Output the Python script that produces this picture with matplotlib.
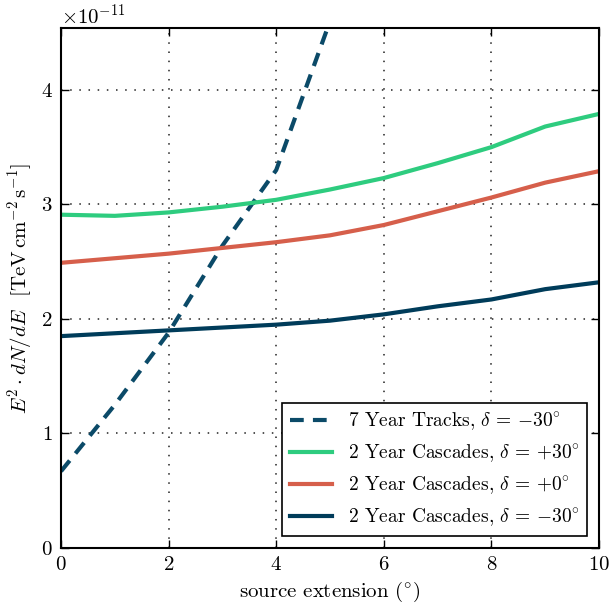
import matplotlib
matplotlib.use('Agg')
import matplotlib.pyplot as plt
import numpy as np

plt.rcParams['font.family'] = 'serif'
plt.rcParams['font.serif'] = ['cmr10']
plt.rcParams['mathtext.fontset'] = 'cm'
plt.rcParams['axes.formatter.use_mathtext'] = True
plt.rcParams['axes.unicode_minus'] = False
plt.rcParams['font.size'] = 15

# source extension (deg)
ext = np.arange(0, 11)
ext_tracks = np.arange(0, 7)

# fluxes in units of 1e-11 TeV cm^-2 s^-1
tracks_m30 = [0.67, 1.25, 1.88, 2.64, 3.30, 4.60, 6.0]
casc_p30 = [2.91, 2.90, 2.93, 2.98, 3.04, 3.13, 3.23, 3.36, 3.50, 3.68, 3.79]
casc_0 = [2.49, 2.53, 2.57, 2.62, 2.67, 2.73, 2.82, 2.94, 3.06, 3.19, 3.29]
casc_m30 = [1.85, 1.875, 1.90, 1.925, 1.95, 1.985, 2.04, 2.11, 2.17, 2.26, 2.32]

scale = 1e-11

fig = plt.figure(figsize=(6.09, 6.05), dpi=100)
ax = fig.add_axes([0.1002, 0.0942, 0.8834, 0.8595])

ax.plot(ext_tracks, np.array(tracks_m30) * scale, color='#0b4a68', lw=3,
        dashes=(3.3, 2.2), label=r'7 Year Tracks, $\delta\,=\,{-}30^{\circ}$')
ax.plot(ext, np.array(casc_p30) * scale, color='#2ecc7f', lw=3,
        label=r'2 Year Cascades, $\delta\,=\,{+}30^{\circ}$')
ax.plot(ext, np.array(casc_0) * scale, color='#d65f4b', lw=3,
        label=r'2 Year Cascades, $\delta\,=\,{+}0^{\circ}$')
ax.plot(ext, np.array(casc_m30) * scale, color='#003c5a', lw=3,
        label=r'2 Year Cascades, $\delta\,=\,{-}30^{\circ}$')

ax.set_xlim(0, 10)
ax.set_ylim(0, 4.54e-11)
ax.set_xticks([0, 2, 4, 6, 8, 10])
ax.set_yticks(np.array([0, 1, 2, 3, 4]) * scale)
ax.grid(True, color='#222222', linestyle=(0, (1, 5)), linewidth=1.1)
ax.tick_params(direction='in', top=True, right=True, length=6, width=1, pad=6)
for s in ax.spines.values():
    s.set_linewidth(1.5)

ax.set_xlabel(r'source extension ($^{\circ}$)')
ax.set_ylabel(r'$E^2 \cdot dN/dE$  [$\mathrm{TeV\,cm^{-2}\,s^{-1}}$]')

leg = ax.legend(loc='lower right', fontsize=14, fancybox=False, framealpha=1,
                edgecolor='black', handlelength=2.2, borderaxespad=0.6)
leg.get_frame().set_linewidth(1.2)

fig.savefig('out.png', dpi=100)
